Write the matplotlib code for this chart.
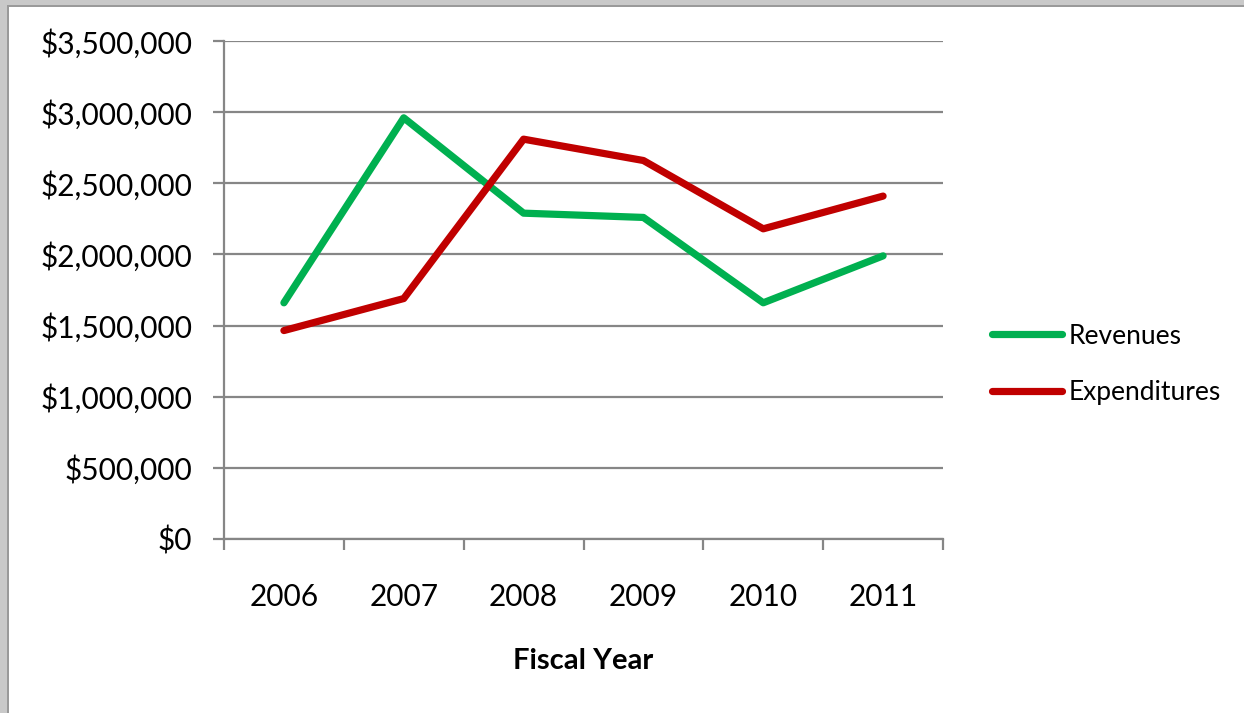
import matplotlib
matplotlib.use('Agg')
import matplotlib.pyplot as plt
from matplotlib.patches import Rectangle
from matplotlib.ticker import FuncFormatter, FixedLocator

# Fiscal year totals
years = ['2006', '2007', '2008', '2009', '2010', '2011']
revenues = [1660000, 2960000, 2290000, 2260000, 1660000, 1990000]
expenditures = [1465000, 1690000, 2810000, 2660000, 2180000, 2410000]

GREEN = '#00B050'
RED = '#C00000'
GRID = '#868686'

plt.rcParams['font.family'] = ['Lato', 'DejaVu Sans']

fig = plt.figure(figsize=(12.44, 7.13), dpi=100)
fig.patch.set_facecolor('white')

# textured-looking frame along the top and left edges
W, H = 1244, 713
fig.patches.append(Rectangle((0, 1 - 6 / H), 1, 6 / H, transform=fig.transFigure,
                             facecolor='#c9c9c9', edgecolor='none', zorder=0))
fig.patches.append(Rectangle((0, 0), 8 / W, 1, transform=fig.transFigure,
                             facecolor='#c9c9c9', edgecolor='none', zorder=0))
fig.patches.append(Rectangle((7 / W, 0), 1.5 / W, 1 - 5 / H, transform=fig.transFigure,
                             facecolor='#9a9a9a', edgecolor='none', zorder=0))
fig.patches.append(Rectangle((7 / W, 1 - 6.5 / H), 1, 1.5 / H, transform=fig.transFigure,
                             facecolor='#9a9a9a', edgecolor='none', zorder=0))

ax = fig.add_axes([224 / W, 1 - 539 / H, (943 - 224) / W, (539 - 41) / H])
x = list(range(len(years)))

ax.plot(x, revenues, color=GREEN, lw=5.2, solid_capstyle='round',
        solid_joinstyle='round', label='Revenues', zorder=3)
ax.plot(x, expenditures, color=RED, lw=5.2, solid_capstyle='round',
        solid_joinstyle='round', label='Expenditures', zorder=3)

ax.set_xlim(-0.5, len(years) - 0.5)
ax.set_ylim(0, 3500000)
ax.set_yticks(range(0, 3500001, 500000))
ax.yaxis.set_major_formatter(FuncFormatter(lambda v, p: f'${v:,.0f}'))
ax.yaxis.grid(True, color=GRID, lw=1.6)
ax.set_axisbelow(True)

# category boundaries get tick marks, labels sit in the middle
ax.xaxis.set_major_locator(FixedLocator([i - 0.5 for i in range(len(years) + 1)]))
ax.xaxis.set_major_formatter(FuncFormatter(lambda v, p: ''))
ax.xaxis.set_minor_locator(FixedLocator(x))
ax.set_xticklabels(years, minor=True)
ax.tick_params(axis='x', which='major', length=8, width=1.6, color=GRID, direction='out')
ax.tick_params(axis='x', which='minor', length=0, pad=32, labelsize=21.5)
ax.tick_params(axis='y', length=8, width=1.6, color=GRID, pad=15, labelsize=21.5)

for side in ['top', 'right']:
    ax.spines[side].set_visible(False)
for side in ['left', 'bottom']:
    ax.spines[side].set_color(GRID)
    ax.spines[side].set_linewidth(1.6)

ax.set_xlabel('Fiscal Year', fontsize=21, fontweight='bold', labelpad=26)

fig.legend(loc='center left', bbox_to_anchor=(968 / W, 1 - 364.5 / H), frameon=False,
           fontsize=19, handlelength=2.65, handletextpad=0.27, labelspacing=1.2)

fig.savefig('out.png', dpi=100, facecolor='white')
